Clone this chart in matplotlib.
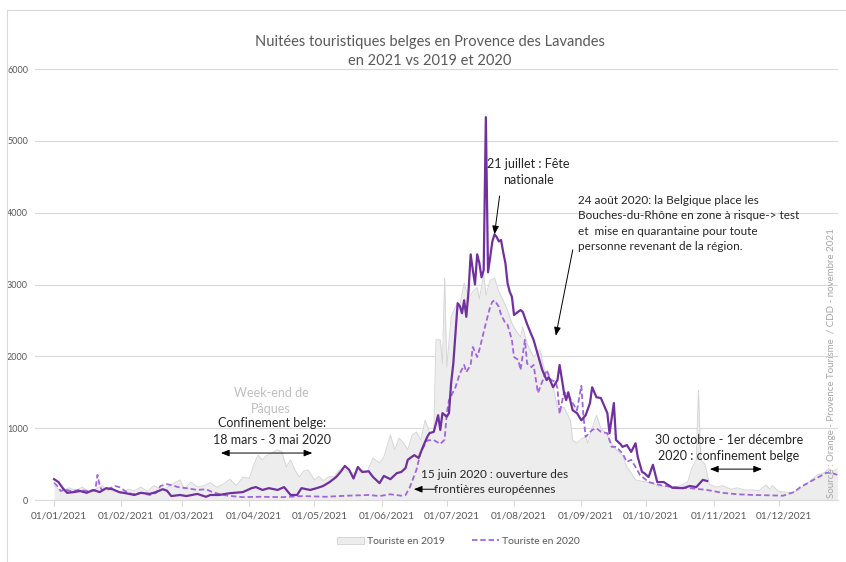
import matplotlib
matplotlib.use("Agg")
import matplotlib.pyplot as plt
import matplotlib.dates as mdates
import matplotlib.transforms as mtransforms
from matplotlib.patches import Patch
from matplotlib.lines import Line2D
import pandas as pd

plt.rcParams['font.family'] = ['Lato', 'DejaVu Sans']

# ---------------- data (day offset from 01/01/2021, value) ----------------
days_2019 = [0, 2, 4, 7, 10, 13, 16, 19, 22, 25, 28, 31, 34, 37, 40, 43, 46, 49, 52, 55,
             58, 60, 63, 66, 69, 72, 75, 78, 81, 84, 87, 90, 92, 94, 96, 98, 100, 103, 105,
             107, 109, 111, 113, 115, 117, 120, 122, 124, 127, 129, 131, 133, 136, 139, 142,
             144, 147, 150, 152, 155, 157, 159, 161, 163, 165, 167, 169, 171, 173, 175, 176,
             178, 179, 180, 181, 183, 185, 187, 189, 191, 193, 195, 196, 198, 199, 201, 203,
             205, 207, 209, 211, 213, 215, 216, 218, 221, 224, 226, 228, 230, 232, 235, 238,
             239, 241, 243, 245, 246, 248, 250, 252, 255, 257, 259, 262, 264, 266, 268, 271,
             273, 276, 279, 283, 287, 290, 292, 294, 296, 297, 298, 300, 302, 305, 308, 312,
             315, 318, 322, 325, 328, 330, 331, 334, 337, 340, 343, 346, 349, 352, 355, 357,
             359, 361]
vals_2019 = [200, 150, 120, 170, 130, 180, 120, 150, 200, 130, 120, 90, 150, 130, 180, 120,
             200, 150, 170, 230, 280, 150, 250, 180, 200, 240, 180, 220, 290, 200, 320, 300,
             490, 625, 560, 620, 650, 700, 670, 460, 560, 420, 320, 400, 420, 280, 330, 270,
             330, 320, 400, 445, 380, 375, 420, 375, 585, 515, 600, 905, 700, 860, 800, 700,
             900, 945, 835, 1110, 950, 930, 2230, 2230, 1900, 3090, 1850, 2550, 2690, 2710,
             3020, 2810, 2900, 2960, 2800, 3150, 2850, 3060, 3090, 2900, 2780, 2640, 2460,
             2350, 2270, 2410, 2180, 1990, 2090, 1810, 1700, 1570, 1295, 1290, 1110, 835, 790,
             850, 880, 790, 1000, 1180, 1000, 900, 790, 700, 620, 460, 375, 280, 260, 250, 230,
             180, 200, 180, 220, 250, 450, 560, 1530, 560, 500, 220, 180, 200, 150, 170, 140,
             140, 130, 210, 150, 200, 120, 110, 100, 130, 200, 280, 350, 380, 440, 400, 430]

days_2020 = [0, 2, 3, 5, 8, 11, 14, 17, 19, 20, 21, 22, 25, 28, 30, 33, 36, 40, 44, 47, 49,
             52, 55, 57, 61, 66, 70, 73, 76, 80, 87, 95, 105, 115, 125, 135, 145, 150, 155,
             160, 162, 164, 167, 169, 172, 175, 178, 180, 181, 182, 185, 187, 189, 190, 192,
             193, 195, 196, 199, 201, 202, 203, 205, 206, 208, 209, 211, 212, 214, 215, 217,
             218, 220, 221, 223, 225, 227, 229, 231, 232, 233, 235, 237, 239, 241, 243, 244,
             245, 248, 250, 252, 255, 257, 259, 262, 264, 266, 268, 270, 274, 279, 285, 293,
             301, 308, 315, 322, 330, 336, 341, 344, 347, 350, 353, 356, 359, 361]
vals_2020 = [240, 180, 125, 150, 120, 140, 130, 120, 140, 350, 200, 140, 150, 195, 180, 120,
             80, 100, 70, 100, 195, 220, 200, 180, 165, 140, 150, 110, 85, 60, 40, 45, 40, 55,
             45, 60, 70, 55, 80, 60, 70, 180, 420, 670, 830, 835, 780, 840, 1210, 1390, 1570,
             1760, 1880, 1780, 1880, 2130, 1990, 2090, 2460, 2690, 2760, 2780, 2690, 2580,
             2460, 2440, 2230, 1990, 1950, 1810, 2230, 1900, 1850, 1880, 1490, 1650, 1810,
             1670, 1650, 1560, 1200, 1500, 1460, 1350, 1250, 1590, 1160, 880, 975, 1000, 950,
             930, 740, 740, 650, 530, 560, 460, 350, 250, 210, 180, 165, 140, 100, 80, 70, 65,
             60, 110, 180, 230, 280, 330, 380, 370, 350]

days_2021 = [0, 2, 4, 6, 9, 12, 15, 18, 21, 24, 27, 30, 33, 37, 40, 44, 47, 50, 52, 54, 58,
             61, 66, 70, 72, 76, 81, 87, 91, 93, 96, 99, 103, 106, 109, 112, 114, 118, 121,
             124, 127, 130, 132, 134, 136, 138, 140, 142, 145, 147, 150, 152, 155, 158, 160,
             162, 163, 166, 168, 170, 172, 173, 175, 177, 178, 179, 181, 182, 183, 184, 185,
             186, 187, 188, 189, 190, 191, 192, 193, 194, 195, 196, 197, 198, 199, 200, 201,
             202, 203, 204, 205, 206, 207, 208, 209, 210, 211, 212, 213, 215, 216, 218, 220,
             221, 223, 225, 227, 228, 230, 232, 233, 235, 236, 237, 239, 241, 243, 245, 247,
             248, 250, 252, 255, 256, 258, 259, 261, 262, 264, 266, 268, 269, 271, 272, 274,
             276, 278, 281, 285, 290, 293, 296, 299, 301]
vals_2021 = [290, 250, 165, 100, 110, 125, 100, 140, 110, 165, 150, 110, 95, 70, 100, 85,
             110, 150, 130, 55, 70, 55, 85, 45, 70, 70, 95, 110, 165, 180, 140, 165, 140, 180,
             70, 70, 165, 140, 165, 195, 250, 320, 390, 475, 420, 300, 460, 390, 400, 320, 235,
             335, 290, 375, 390, 445, 560, 625, 585, 740, 880, 930, 950, 1180, 975, 1210, 1160,
             1210, 1630, 1900, 2320, 2740, 2700, 2600, 2780, 2550, 2900, 3420, 3200, 3000,
             3420, 3300, 3100, 3200, 5330, 3170, 3380, 3600, 3700, 3660, 3600, 3620, 3450,
             3300, 3020, 2900, 2830, 2575, 2600, 2645, 2620, 2450, 2300, 2230, 2020, 1810,
             1670, 1710, 1570, 1670, 1880, 1500, 1390, 1500, 1250, 1210, 1110, 1180, 1350,
             1570, 1430, 1420, 1210, 930, 1350, 835, 780, 740, 765, 670, 790, 600, 390, 375,
             320, 490, 250, 250, 170, 165, 195, 180, 280, 265]

month_ticks = ['2021-%02d-01' % m for m in range(1, 13)]

title = "Nuitées touristiques belges en Provence des Lavandes\nen 2021 vs 2019 et 2020"
label_2019 = "Touriste en 2019"
label_2020 = "Touriste en 2020"
source = "Source : Orange - Provence Tourisme  / CDD - novembre 2021"

# ---------------- helpers ----------------
base = pd.Timestamp('2021-01-01')
def to_dates(days):
    return [base + pd.Timedelta(days=d) for d in days]
def d(day):
    return mdates.date2num(base + pd.Timedelta(days=day))

x19, x20, x21 = to_dates(days_2019), to_dates(days_2020), to_dates(days_2021)

fig = plt.figure(figsize=(8.46, 5.62), dpi=100)
ax = fig.add_axes([0.0414, 0.1103, 0.9491, 0.7669])

c21 = '#7030A0'
c20 = '#A066DD'
gray_txt = '#595959'

ax.fill_between(x19, vals_2019, 0, color='#EDEDED', lw=0, zorder=1)
ax.plot(x19, vals_2019, color='#D6D6D6', lw=0.7, zorder=2)
ax.plot(x20, vals_2020, color=c20, lw=1.3, ls=(0, (3, 1.6)), zorder=3)
ax.plot(x21, vals_2021, color=c21, lw=1.6, zorder=4)

ax.set_ylim(0, 6000)
ax.set_yticks(range(0, 6001, 1000))
ax.set_xlim(d(-8.8), d(361.3))
ax.set_xticks([mdates.date2num(pd.Timestamp(t)) for t in month_ticks])
ax.xaxis.set_major_formatter(mdates.DateFormatter('%d/%m/%Y'))
ax.grid(axis='y', color='#D9D9D9', lw=0.8, zorder=0)
for s in ['top', 'right', 'left']:
    ax.spines[s].set_visible(False)
ax.spines['bottom'].set_color('#D9D9D9')
ax.tick_params(axis='y', length=0, labelsize=6.5, labelcolor=gray_txt, pad=5)
ax.tick_params(axis='x', length=4, color='#D9D9D9', labelsize=7.3, labelcolor=gray_txt, pad=4)
ax.set_axisbelow(True)
offset = mtransforms.ScaledTranslation(3.5 / 72, 0, fig.dpi_scale_trans)
for lab in ax.get_xticklabels():
    lab.set_transform(lab.get_transform() + offset)

fig.text(0.508, 0.908, title, ha='center', va='center', fontsize=10.5,
         color=gray_txt, linespacing=1.5)

# annotations
tc = '#262626'
fs = 9
ls_ = 1.42
ah = dict(color='black', lw=0.7)
ax.annotate('', xy=(d(202.8), 3660), xytext=(d(205.5), 4270),
            arrowprops=dict(arrowstyle='-|>,head_length=0.5,head_width=0.2', **ah))
ax.text(d(218.5), 4570, "21 juillet : Fête\nnationale", ha='center', va='center',
        fontsize=fs, color=tc, linespacing=ls_)

ax.annotate('', xy=(d(231), 2250), xytext=(d(239.3), 3520),
            arrowprops=dict(arrowstyle='-|>,head_length=0.5,head_width=0.2', **ah))
ax.text(d(241.5), 3850, "24 août 2020: la Belgique place les\nBouches-du-Rhône en zone à risque-> test\net  mise en quarantaine pour toute\npersonne revenant de la région.",
        ha='left', va='center', fontsize=8.5, color=tc, linespacing=1.5)

ax.text(d(100), 1380, "Week-end de\nPâques", ha='center', va='center', fontsize=fs,
        color='#BFBFBF', linespacing=ls_)
ax.text(d(100.5), 955, "Confinement belge:\n18 mars - 3 mai 2020", ha='center', va='center',
        fontsize=fs, color=tc, linespacing=ls_)
ax.annotate('', xy=(d(75.6), 654), xytext=(d(120.3), 654),
            arrowprops=dict(arrowstyle='<|-|>,head_length=0.5,head_width=0.2', **ah))

ax.text(d(203), 250, "15 juin 2020 : ouverture des\nfrontières européennes", ha='center', va='center',
        fontsize=8.5, color=tc, linespacing=1.5)
ax.annotate('', xy=(d(164.5), 150), xytext=(d(177), 150),
            arrowprops=dict(arrowstyle='-|>,head_length=0.5,head_width=0.2', **ah))

ax.text(d(311), 728, "30 octobre - 1er décembre\n2020 : confinement belge", ha='center', va='center',
        fontsize=fs, color=tc, linespacing=ls_)
ax.annotate('', xy=(d(301), 430), xytext=(d(327.6), 430),
            arrowprops=dict(arrowstyle='<|-|>,head_length=0.5,head_width=0.2', **ah))

fig.text(0.983, 0.354, source, rotation=90, ha='center', va='center', fontsize=7,
         color='#A6A6A6')

handles = [Patch(facecolor='#EDEDED', edgecolor='#D0D0D0', lw=0.6, label=label_2019),
           Line2D([0], [0], color=c20, lw=1.3, ls=(0, (3, 1.6)), label=label_2020)]
leg = fig.legend(handles=handles, loc='center', bbox_to_anchor=(0.542, 0.037), ncol=2,
                 frameon=False, fontsize=7.5, handlelength=2.6, columnspacing=2.6,
                 handletextpad=0.3)
for t in leg.get_texts():
    t.set_color(gray_txt)

# chart border
fig.add_artist(Line2D([7/846, 7/846], [0, 1 - 10/562], transform=fig.transFigure,
                      color='#D9D9D9', lw=0.8))
fig.add_artist(Line2D([7/846, 1], [1 - 10/562, 1 - 10/562], transform=fig.transFigure,
                      color='#D9D9D9', lw=0.8))

fig.savefig('out.png', dpi=100)
